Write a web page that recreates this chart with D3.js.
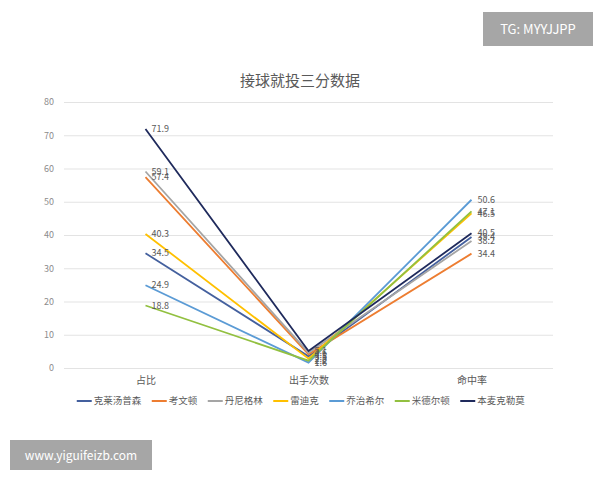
<!DOCTYPE html>
<html>
<head>
<meta charset="utf-8">
<script src="https://cdn.jsdelivr.net/npm/d3@7"></script>
<style>
  body { margin: 0; background: #fff; }
  text { font-family: "Noto Sans CJK SC", "Noto Sans", sans-serif; }
</style>
</head>
<body>
<svg id="chart" width="600" height="480"></svg>
<script>
// categories on the x axis
var categories = ["占比", "出手次数", "命中率"];
// player names (series)
var players = ["克莱汤普森", "考文顿", "丹尼格林", "雷迪克", "乔治希尔", "米德尔顿", "本麦克勒莫"];
// values per category, one entry per player
var shareValues    = [34.5, 57.4, 59.1, 40.3, 24.9, 18.8, 71.9];
var attemptsValues = [3.5, 4.1, 4.6, 2.8, 1.6, 2.2, 5.1];
var pctValues      = [39.4, 34.4, 38.2, 46.5, 50.6, 47.1, 40.5];
var yTicks = [0, 10, 20, 30, 40, 50, 60, 70, 80];
var colors = ["#44609e", "#ed7d31", "#a5a5a5", "#ffc000", "#5b9bd5", "#92c040", "#1f2a5c"];

var svg = d3.select("#chart");
var margin = {top: 102, right: 47, bottom: 112, left: 64},
    width = 600 - margin.left - margin.right,
    height = 480 - margin.top - margin.bottom;

var series = players.map(function(p, i) {
  return {name: p, color: colors[i],
          values: [shareValues[i], attemptsValues[i], pctValues[i]]};
});

// scales
var x = d3.scalePoint().domain(categories).range([0, width]).padding(0.5);
var y = d3.scaleLinear().domain([0, 80]).range([height, 0]);

var g = svg.append("g")
  .attr("transform", "translate(" + margin.left + "," + margin.top + ")");

// title
svg.append("text")
  .attr("x", 300).attr("y", 86)
  .attr("text-anchor", "middle")
  .attr("font-size", 15)
  .attr("fill", "#595959")
  .text("接球就投三分数据");

// gridlines + y labels
var yAxis = g.append("g")
  .call(d3.axisLeft(y).tickValues(yTicks).tickSize(-width).tickPadding(10));
yAxis.select(".domain").remove();
yAxis.selectAll(".tick line").attr("stroke", "#e3e3e3");
yAxis.selectAll(".tick text").attr("fill", "#8c8c8c").attr("font-size", 9);

// x labels
var xAxis = g.append("g")
  .attr("transform", "translate(0," + height + ")")
  .call(d3.axisBottom(x).tickSize(0).tickPadding(9));
xAxis.select(".domain").remove();
xAxis.selectAll(".tick text").attr("fill", "#595959").attr("font-size", 10);

// lines
var line = d3.line()
  .x(function(d, i) { return x(categories[i]); })
  .y(function(d) { return y(d); });

g.selectAll(".series")
  .data(series)
  .enter().append("path")
    .attr("class", "series")
    .attr("fill", "none")
    .attr("stroke", function(d) { return d.color; })
    .attr("stroke-width", 1.8)
    .attr("d", function(d) { return line(d.values); });

// data labels
series.forEach(function(s) {
  g.selectAll(null)
    .data(s.values)
    .enter().append("text")
      .attr("x", function(d, i) { return x(categories[i]) + 6; })
      .attr("y", function(d) { return y(d); })
      .attr("dy", "0.35em")
      .attr("font-size", 9)
      .attr("fill", "#595959")
      .text(function(d) { return d; });
});

// legend
var legend = svg.append("g").attr("transform", "translate(0,401)");
var items = legend.selectAll(".item")
  .data(series)
  .enter().append("g").attr("class", "item");
items.append("line")
  .attr("x1", 0).attr("x2", 15)
  .attr("stroke", function(d) { return d.color; })
  .attr("stroke-width", 2);
items.append("text")
  .attr("x", 17).attr("dy", "0.35em")
  .attr("font-size", 9.5)
  .attr("fill", "#595959")
  .text(function(d) { return d.name; });
var widths = [];
items.each(function() { widths.push(this.getBBox().width); });
var gap = 10;
var total = d3.sum(widths) + gap * (widths.length - 1);
var cx = 301 - total / 2;
items.attr("transform", function(d, i) {
  var t = "translate(" + cx + ",0)";
  cx += widths[i] + gap;
  return t;
});

// watermark boxes
svg.append("rect").attr("x", 483).attr("y", 12).attr("width", 110).attr("height", 34).attr("fill", "#a6a6a6");
svg.append("text").attr("x", 538).attr("y", 34).attr("text-anchor", "middle")
  .attr("font-size", 13).attr("fill", "#fff").attr("font-family", "DejaVu Sans")
  .text("TG: MYYJJPP");
svg.append("rect").attr("x", 10).attr("y", 440).attr("width", 142).attr("height", 30).attr("fill", "#a6a6a6");
svg.append("text").attr("x", 81).attr("y", 460).attr("text-anchor", "middle")
  .attr("font-size", 12).attr("fill", "#fff").attr("font-family", "DejaVu Sans")
  .text("www.yiguifeizb.com");
</script>
</body>
</html>
